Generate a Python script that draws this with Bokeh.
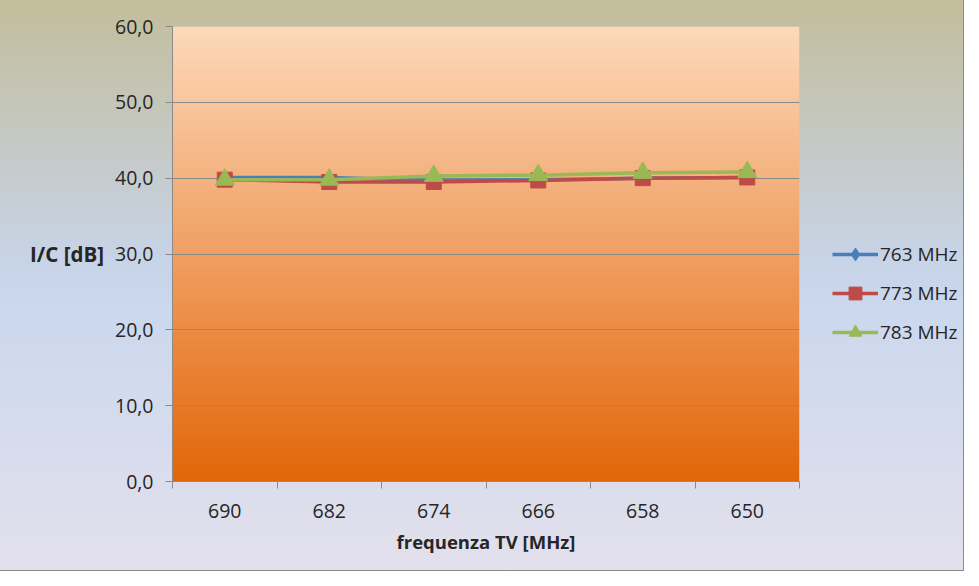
import numpy as np
from bokeh.plotting import figure
from bokeh.layouts import row
from bokeh.models import (Range1d, FixedTicker, Legend, LegendItem)
from bokeh.embed import file_html
from bokeh.resources import INLINE

# ---- data ----
freqs = ["690", "682", "674", "666", "658", "650"]
s763 = [40.1, 40.1, 39.7, 39.8, 40.0, 40.1]
s773 = [39.8, 39.5, 39.5, 39.7, 40.0, 40.1]
s783 = [39.8, 39.8, 40.3, 40.4, 40.7, 40.8]
series_names = ["763 MHz", "773 MHz", "783 MHz"]
y_ticks = [0, 10, 20, 30, 40, 50, 60]
y_tick_labels = ["0,0", "10,0", "20,0", "30,0", "40,0", "50,0", "60,0"]

FONT = "Open Sans"
TXT = "#262626"
colors = ["#4a7ebb", "#be4b48", "#98b954"]
markers = ["diamond", "square", "triangle"]
msizes = [14, 15, 19]

x = list(range(len(freqs)))

W1, H = 814, 570
p = figure(width=W1, height=H, output_backend="svg", toolbar_location=None,
           x_range=Range1d(-0.5, len(freqs) - 0.5), y_range=Range1d(0, 60),
           min_border_left=172, min_border_right=15, min_border_top=26,
           min_border_bottom=89)
p.border_fill_alpha = 0
p.background_fill_alpha = 0
p.outline_line_color = None

# plot-area gradient
n = 256
top = np.array([0xfd, 0xd9, 0xbb], dtype=float)
bot = np.array([0xe3, 0x66, 0x0a], dtype=float)
t = np.linspace(0, 1, n)[:, None]  # row 0 = bottom
cols = bot * (1 - t) + top * t
img = np.zeros((n, 1), dtype=np.uint32)
view = img.view(dtype=np.uint8).reshape((n, 1, 4))
view[:, 0, 0] = cols[:, 0]
view[:, 0, 1] = cols[:, 1]
view[:, 0, 2] = cols[:, 2]
view[:, 0, 3] = 255
p.image_rgba(image=[img], x=-0.5, y=0, dw=len(freqs), dh=60, level="image")

# grid
p.xgrid.grid_line_color = None
p.ygrid.ticker = FixedTicker(ticks=y_ticks)
p.ygrid.grid_line_color = "#8a8a8a"
p.ygrid.grid_line_width = 1

# axes
p.yaxis.ticker = FixedTicker(ticks=y_ticks)
p.yaxis.major_label_overrides = {v: l for v, l in zip(y_ticks, y_tick_labels)}
p.xaxis.ticker = FixedTicker(ticks=x, minor_ticks=[i - 0.5 for i in range(len(freqs) + 1)])
p.xaxis.major_label_overrides = {i: f for i, f in enumerate(freqs)}
for ax in (p.xaxis[0], p.yaxis[0]):
    ax.axis_line_color = "#8a8a8a"
    ax.major_tick_line_color = "#8a8a8a"
    ax.minor_tick_line_color = "#8a8a8a"
    ax.major_label_text_font = FONT
    ax.major_label_text_font_size = "19.5px"
    ax.major_label_text_color = TXT
    ax.axis_label_text_font = FONT
    ax.axis_label_text_font_style = "bold"
    ax.axis_label_text_color = TXT
p.xaxis.axis_label_text_font_size = "18.5px"
p.yaxis.axis_label_text_font_size = "20.5px"
p.yaxis.major_tick_in = 0
p.yaxis.major_tick_out = 7
p.yaxis.minor_tick_line_color = None
p.yaxis.major_label_standoff = 12
p.yaxis.axis_label = "I/C [dB]"
p.yaxis.axis_label_orientation = "horizontal"
p.yaxis.axis_label_standoff = 8
p.xaxis.major_tick_in = 0
p.xaxis.major_tick_out = 0
p.xaxis.minor_tick_in = 0
p.xaxis.minor_tick_out = 7
p.xaxis.major_label_standoff = 15
p.xaxis.axis_label = "frequenza TV [MHz]"
p.xaxis.axis_label_standoff = 8

all_series = [s763, s773, s783]
for vals, c, m, ms in zip(all_series, colors, markers, msizes):
    p.line(x, vals, line_color=c, line_width=3.5)
    p.scatter(x, vals, marker=m, size=ms, fill_color=c, line_color=c)

# legend panel (separate figure; its own copies of the series lie outside its view)
W2 = 963 - W1
p2 = figure(width=W2, height=H, output_backend="svg", toolbar_location=None,
            x_range=Range1d(100, 101), y_range=Range1d(100, 101),
            min_border=0)
p2.axis.visible = False
p2.grid.visible = False
p2.border_fill_alpha = 0
p2.background_fill_alpha = 0
p2.outline_line_color = None
items = []
for name, vals, c, m in zip(series_names, all_series, colors, markers):
    r1 = p2.line(x, vals, line_color=c, line_width=3.5)
    r2 = p2.scatter(x, vals, marker=m, fill_color=c, line_color=c)
    items.append(LegendItem(label=name, renderers=[r1, r2]))
legend = Legend(items=items, location=(10, 125), background_fill_alpha=0,
                border_line_alpha=0, label_text_font=FONT, label_text_font_size="19px",
                label_text_color=TXT, glyph_width=46, glyph_height=32, label_height=32,
                spacing=7, padding=8, margin=0, label_standoff=2)
p2.add_layout(legend)

layout = row(p, p2, spacing=0,
             styles={"background": "linear-gradient(to bottom, #c3bd9b 0%, #c7d3e6 45%, #cbd8ee 55%, #e3e0ec 100%)",
                     "outline": "1px solid #8a8a8a"})

open("out.html", "w").write(file_html(layout, INLINE))
